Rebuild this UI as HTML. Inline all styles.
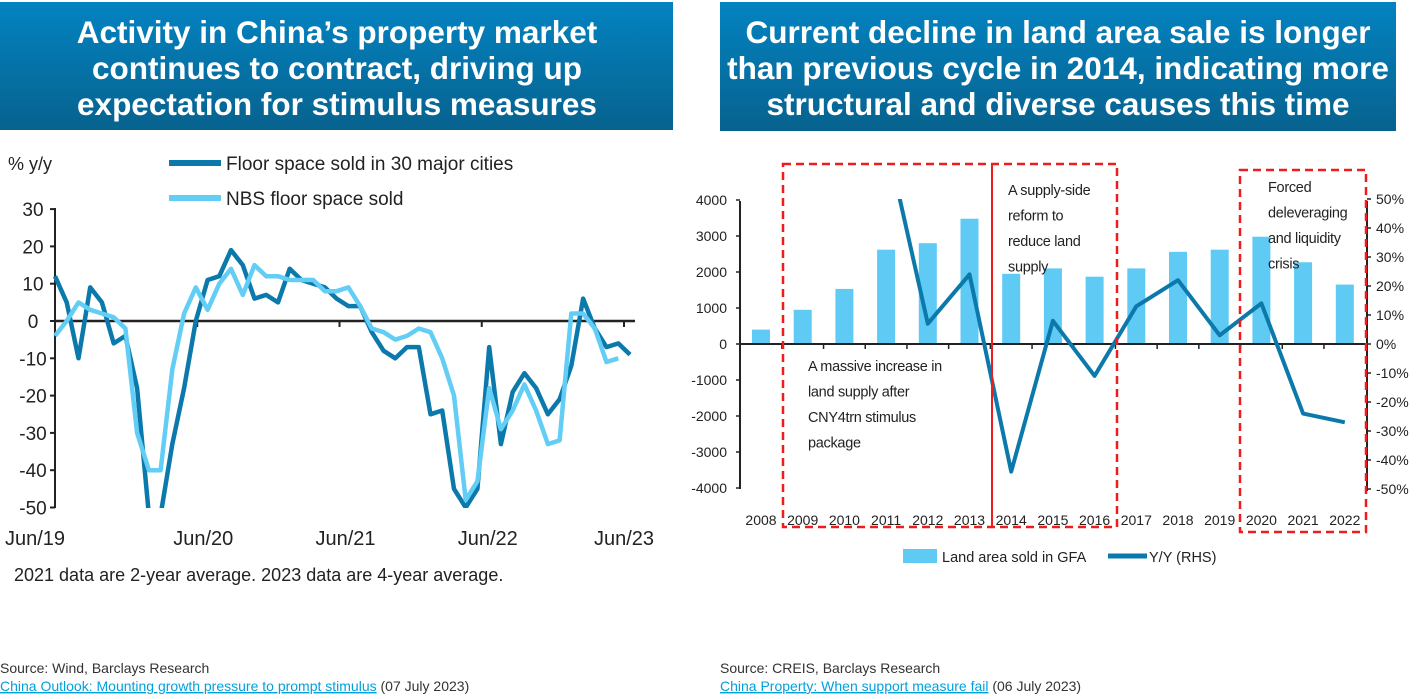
<!DOCTYPE html>
<html><head><meta charset="utf-8"><style>
body{margin:0;background:#fff;width:1422px;height:699px;overflow:hidden;font-family:"Liberation Sans",sans-serif}
svg{display:block}
</style></head><body>
<svg id="s" width="1422" height="699" xmlns="http://www.w3.org/2000/svg">
<defs><linearGradient id="g" x1="0" y1="0" x2="0" y2="1"><stop offset="0" stop-color="#0383c1"/><stop offset="1" stop-color="#07628e"/></linearGradient></defs>
<g>
<rect x="0" y="2" width="673" height="128" fill="url(#g)"/>
<text x="337" y="43" fill="#fff" font-size="31.5" font-weight="bold" text-anchor="middle">Activity in China’s property market</text>
<text x="337" y="79" fill="#fff" font-size="31.5" font-weight="bold" text-anchor="middle">continues to contract, driving up</text>
<text x="337" y="115" fill="#fff" font-size="31.5" font-weight="bold" text-anchor="middle">expectation for stimulus measures</text>
</g>
<g>
<rect x="720" y="2" width="676" height="129" fill="url(#g)"/>
<text x="1058" y="43" fill="#fff" font-size="31.5" font-weight="bold" text-anchor="middle">Current decline in land area sale is longer</text>
<text x="1058" y="79" fill="#fff" font-size="31.5" font-weight="bold" text-anchor="middle">than previous cycle in 2014, indicating more</text>
<text x="1058" y="115" fill="#fff" font-size="31.5" font-weight="bold" text-anchor="middle">structural and diverse causes this time</text>
</g>
<g id="L"></g>
<g id="R"></g>
<text x="14" y="581" font-size="18" fill="#222">2021 data are 2-year average. 2023 data are 4-year average.</text>
<text x="0" y="673" font-size="14" fill="#333">Source: Wind, Barclays Research</text>
<text x="0" y="691" font-size="14" fill="#333"><tspan fill="#00a1de" text-decoration="underline">China Outlook: Mounting growth pressure to prompt stimulus</tspan> (07 July 2023)</text>
<text x="720" y="673" font-size="14" fill="#333">Source: CREIS, Barclays Research</text>
<text x="720" y="691" font-size="14" fill="#333"><tspan fill="#00a1de" text-decoration="underline">China Property: When support measure fail</tspan> (06 July 2023)</text>
</svg>
<script>
const darkVals=[12,5,-10,9,5,-6,-4,-18,-52,-52,-33,-18,0,11,12,19,15,6,7,5,14,11,10,9,6,4,4,-3,-8,-10,-7,-7,-25,-24,-45,-50,-45,-7,-33,-19,-14,-18,-25,-21,-12,6,-2,-7,-6,-9];
const lightVals=[-4,0,5,3,2,1,-2,-30,-40,-40,-13,2,9,3,10,14,7,15,12,12,11,11,11,8,8,9,4,-2,-3,-5,-4,-2,-3,-10,-20,-48,-43,-18,-29,-24,-17,-24,-33,-32,2,2,-2,-11,-10];
const leftTicks=[30,20,10,0,-10,-20,-30,-40,-50];
const leftXLabels=["Jun/19","Jun/20","Jun/21","Jun/22","Jun/23"];
const years=["2008","2009","2010","2011","2012","2013","2014","2015","2016","2017","2018","2019","2020","2021","2022"];
const landArea=[400,950,1530,2620,2800,3480,1950,2100,1870,2100,2560,2620,2980,2270,1650];
const yoyPct=[null,null,null,71,7,24,-44,8,-11,13,22,3,14,-24,-27];
const rightLTicks=[4000,3000,2000,1000,0,-1000,-2000,-3000,-4000];
const rightRTicks=[50,40,30,20,10,0,-10,-20,-30,-40,-50];

const NS="http://www.w3.org/2000/svg";
function mk(p,tag,a,txt){const e=document.createElementNS(NS,tag);for(const k in a)e.setAttribute(k,a[k]);if(txt!=null)e.textContent=txt;p.appendChild(e);return e;}
// LEFT
const L=document.getElementById('L');
const ly=v=>321-v*3.73;
const lx=i=>55+i*(575/49);
let t=mk(L,'text',{x:8,y:170,'font-size':18,fill:'#222'},'% y/y');

mk(L,'line',{x1:55,y1:208,x2:55,y2:508,stroke:'#222','stroke-width':2});
leftTicks.forEach(v=>{
 mk(L,'line',{x1:50,y1:ly(v),x2:55,y2:ly(v),stroke:'#222','stroke-width':2});
 const e=mk(L,'text',{x:33,y:ly(v)+7,'font-size':19,'text-anchor':'middle',fill:'#222'},String(v));
 
});
mk(L,'line',{x1:55,y1:ly(0),x2:635,y2:ly(0),stroke:'#222','stroke-width':2.5});
leftXLabels.forEach((s,i)=>{
 const x=55+i*(569/4);
 if(i>0)mk(L,'line',{x1:x,y1:ly(0),x2:x,y2:ly(0)+6,stroke:'#222','stroke-width':2});
 const e=mk(L,'text',{x:i==0?35:x+(i==4?0:6),y:545,'font-size':20,'text-anchor':'middle',fill:'#222'},s);
 
});
const cp=mk(L,'clipPath',{id:'lc'});mk(cp,'rect',{x:40,y:200,width:620,height:308});
function line(p,vals,fx,fy,col,w,clip,name){
 const pts=[];vals.forEach((v,i)=>{if(v!=null)pts.push(fx(i).toFixed(1)+','+fy(v).toFixed(1));});
 const e=mk(p,'polyline',{points:pts.join(' '),fill:'none',stroke:col,'stroke-width':w,'stroke-linejoin':'round','clip-path':clip});
 
}
line(L,darkVals,lx,ly,'#0b79ab',4.5,'url(#lc)','series-30-cities');
line(L,lightVals,lx,ly,'#62cdf5',4.5,'url(#lc)','series-nbs');
mk(L,'line',{x1:169,y1:163,x2:221,y2:163,stroke:'#0b79ab','stroke-width':6});
t=mk(L,'text',{x:226,y:170,'font-size':19,fill:'#222'},'Floor space sold in 30 major cities');

mk(L,'line',{x1:169,y1:198,x2:221,y2:198,stroke:'#62cdf5','stroke-width':6});
t=mk(L,'text',{x:226,y:205,'font-size':19,fill:'#222'},'NBS floor space sold');

// RIGHT
const R=document.getElementById('R');
const ry=v=>344-v*0.036;
const rp=v=>344-v*2.9;
const rx=i=>761+i*41.7;
years.forEach((y,i)=>{
 const v=landArea[i];
 const b=mk(R,'rect',{x:rx(i)-9,y:Math.min(ry(v),ry(0)),width:18,height:Math.abs(ry(v)-ry(0)),fill:'#5fcaf3'});
 
 const e=mk(R,'text',{x:rx(i),y:525,'font-size':14,'text-anchor':'middle',fill:'#222'},y);
 
 if(i>0)mk(R,'line',{x1:rx(i)-20.85,y1:344,x2:rx(i)-20.85,y2:349,stroke:'#222','stroke-width':1.5});
});
mk(R,'line',{x1:740,y1:201,x2:740,y2:489,stroke:'#222','stroke-width':2});
mk(R,'line',{x1:1367,y1:201,x2:1367,y2:491,stroke:'#222','stroke-width':2});
mk(R,'line',{x1:740,y1:344,x2:1367,y2:344,stroke:'#222','stroke-width':2});
rightLTicks.forEach(v=>{
 mk(R,'line',{x1:736,y1:ry(v),x2:740,y2:ry(v),stroke:'#222','stroke-width':1.5});
 const e=mk(R,'text',{x:727,y:ry(v)+5,'font-size':14,'text-anchor':'end',fill:'#222'},String(v));
 
});
rightRTicks.forEach(v=>{
 mk(R,'line',{x1:1367,y1:rp(v),x2:1371,y2:rp(v),stroke:'#222','stroke-width':1.5});
 const e=mk(R,'text',{x:1376,y:rp(v)+5,'font-size':14,fill:'#222'},v+'%');
 
});
const cp2=mk(R,'clipPath',{id:'rc'});mk(cp2,'rect',{x:740,y:199,width:630,height:295});
line(R,yoyPct,rx,rp,'#0b79ab',4,'url(#rc)','series-yoy');
function box(x,y,w,h,n){const e=mk(R,'rect',{x:x,y:y,width:w,height:h,fill:'none',stroke:'#ee1c1c','stroke-width':2.5,'stroke-dasharray':'8,5'});}
box(783,164,334,363,'box-2009-2016');
box(1240,170,126,362,'box-2020-2022');
mk(R,'line',{x1:992,y1:164,x2:992,y2:527,stroke:'#ee1c1c','stroke-width':2});
function ann(x,y,lines,n){const g=mk(R,'g',{});lines.forEach((s,i)=>mk(g,'text',{x:x,y:y+i*25.5,'font-size':14.5,fill:'#222','letter-spacing':'-0.3'},s));}
ann(808,371,['A massive increase in','land supply after','CNY4trn stimulus','package'],'annotation-stimulus');
ann(1008,195,['A supply-side','reform to','reduce land','supply'],'annotation-supply-reform');
ann(1268,192,['Forced','deleveraging','and liquidity','crisis'],'annotation-deleveraging');
mk(R,'rect',{x:903,y:549,width:34,height:14,fill:'#5fcaf3'});
t=mk(R,'text',{x:942,y:562,'font-size':14.5,fill:'#222'},'Land area sold in GFA');

mk(R,'line',{x1:1108,y1:556,x2:1147,y2:556,stroke:'#0b79ab','stroke-width':5});
t=mk(R,'text',{x:1149,y:562,'font-size':14.5,fill:'#222'},'Y/Y (RHS)');

</script>
</body></html>
